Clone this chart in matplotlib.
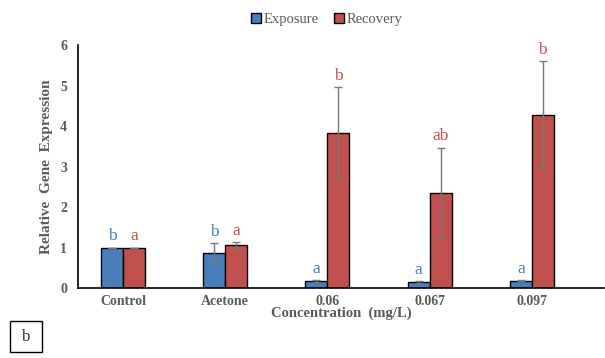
import numpy as np
import matplotlib.pyplot as plt
from matplotlib.patches import Rectangle

plt.rcParams['font.family'] = ['Liberation Serif', 'DejaVu Serif']

groups = ['Control', 'Acetone', '0.06', '0.067', '0.097']
exposure = [1.0, 0.87, 0.18, 0.16, 0.18]
exposure_err = [0.0, 0.25, 0.02, 0.02, 0.01]
recovery = [1.0, 1.06, 3.83, 2.35, 4.27]
recovery_err = [0.0, 0.08, 1.14, 1.12, 1.33]
exposure_letters = ['b', 'b', 'a', 'a', 'a']
recovery_letters = ['a', 'a', 'b', 'ab', 'b']

blue = '#4A7EBB'
red = '#C0504D'
grey = '#595959'

fig = plt.figure(figsize=(6.05, 3.58), dpi=100)
ax = fig.add_axes([0.129, 0.195, 0.87, 0.679])

x = np.arange(len(groups))
w = 0.215
ax.bar(x - w/2, exposure, w, color=blue, edgecolor='black', linewidth=1,
       label='Exposure', zorder=2)
ax.bar(x + w/2, recovery, w, color=red, edgecolor='black', linewidth=1,
       label='Recovery', zorder=2)
ax.errorbar(x - w/2, exposure, yerr=exposure_err, fmt='none', ecolor='#777777',
            elinewidth=1, capsize=3, zorder=3)
ax.errorbar(x + w/2, recovery, yerr=recovery_err, fmt='none', ecolor='#777777',
            elinewidth=1, capsize=3, zorder=3)

for i in range(len(groups)):
    ax.text(x[i] - w/2, exposure[i] + exposure_err[i] + 0.08, exposure_letters[i],
            color=blue, ha='center', va='bottom', fontsize=12.5)
    ax.text(x[i] + w/2, recovery[i] + recovery_err[i] + 0.08, recovery_letters[i],
            color=red, ha='center', va='bottom', fontsize=12.5)

ax.set_xlim(-0.44, 4.71)
ax.set_ylim(0, 6)
ax.set_yticks(range(0, 7))
ax.set_xticks(x)
ax.set_xticklabels(groups)
ax.tick_params(axis='y', length=0, labelsize=10, labelcolor=grey, pad=8)
ax.tick_params(axis='x', length=0, labelsize=10, labelcolor=grey, pad=5)
for lab in ax.get_xticklabels() + ax.get_yticklabels():
    lab.set_fontweight('bold')
ax.spines['top'].set_visible(False)
ax.spines['right'].set_visible(False)
ax.spines['left'].set_linewidth(1.2)
ax.spines['bottom'].set_linewidth(1.2)

ax.set_ylabel('Relative  Gene  Expression', fontsize=11, fontweight='bold',
              color=grey, labelpad=5)
ax.set_xlabel('Concentration  (mg/L)', fontsize=10.5, fontweight='bold',
              color=grey, labelpad=-1)

fig.legend(loc='center', bbox_to_anchor=(0.54, 0.945), ncol=2, frameon=False,
           fontsize=10.5, handlelength=0.7, handleheight=0.7, handletextpad=0.2,
           columnspacing=1.0, labelcolor=grey)

fig.patches.append(Rectangle((0.017, 0.017), 0.053, 0.085, transform=fig.transFigure,
                             fill=False, edgecolor='black', linewidth=1))
fig.text(0.0435, 0.06, 'b', ha='center', va='center', fontsize=12, color='#333333')

fig.savefig('out.png', dpi=100)
